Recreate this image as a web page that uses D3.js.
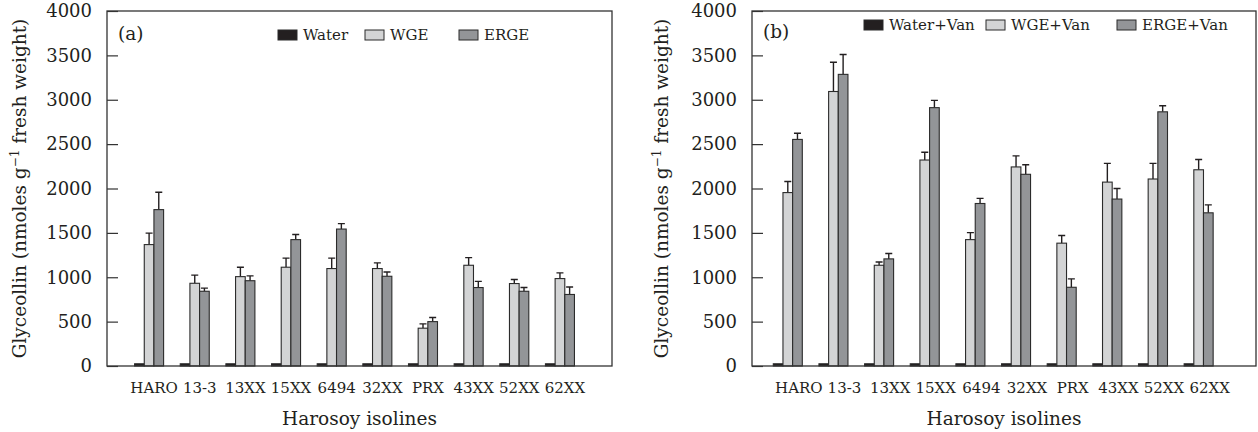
<!DOCTYPE html>
<html>
<head>
<meta charset="utf-8">
<script src="https://cdn.jsdelivr.net/npm/d3@7/dist/d3.min.js"></script>
<style>
  body { margin: 0; background: #fff; }
  text { font-family: "DejaVu Serif", serif; fill: #231f20; }
</style>
</head>
<body>
<div id="chart"></div>
<script>
// Data
var isolines = ["HARO", "13-3", "13XX", "15XX", "6494", "32XX", "PRX", "43XX", "52XX", "62XX"];
var yTicks = [0, 500, 1000, 1500, 2000, 2500, 3000, 3500, 4000];

// panel (a)
var waterA = [25, 25, 25, 25, 25, 25, 25, 25, 25, 25];
var wgeA = [1368, 932, 1007, 1113, 1098, 1098, 426, 1135, 929, 985];
var wgeErrA = [129, 92, 106, 102, 117, 64, 49, 86, 46, 64];
var ergeA = [1762, 842, 961, 1424, 1543, 1011, 500, 884, 842, 806];
var ergeErrA = [196, 35, 54, 57, 61, 49, 46, 70, 42, 84];

// panel (b)
var waterB = [25, 25, 25, 25, 25, 25, 25, 25, 25, 25];
var wgeB = [1954, 3093, 1135, 2321, 1424, 2243, 1384, 2072, 2107, 2211];
var wgeErrB = [125, 329, 37, 88, 79, 125, 86, 211, 176, 115];
var ergeB = [2553, 3286, 1207, 2911, 1831, 2160, 887, 1881, 2864, 1726];
var ergeErrB = [69, 224, 60, 82, 58, 108, 95, 119, 68, 89];

var seriesColors = ["#231f20", "#d3d4d5", "#939598"];

var svgWidth = 1258;
var svgHeight = 432;

var svg = d3.select("#chart")
    .append("svg")
    .attr("width", svgWidth)
    .attr("height", svgHeight);

function drawPanel(p) {
    var top = 11, bottom = 366;
    var step = 45.65, groupW = 29;
    var pad = 1 - groupW / step;

    var y = d3.scaleLinear().domain([0, 4000]).range([bottom, top]);

    var x0 = d3.scaleBand()
        .domain(isolines)
        .range([p.firstGroup - pad / 2 * step, p.firstGroup - pad / 2 * step + isolines.length * step])
        .paddingInner(pad)
        .paddingOuter(pad / 2);

    var x1 = d3.scaleBand()
        .domain([0, 1, 2])
        .range([0, x0.bandwidth()]);

    var g = svg.append("g");

    var rows = isolines.map(function(name, i) {
        return {
            name: name,
            vals: [
                { s: 0, v: p.water[i], e: 0 },
                { s: 1, v: p.wge[i], e: p.wgeErr[i] },
                { s: 2, v: p.erge[i], e: p.ergeErr[i] }
            ]
        };
    });

    var groups = g.selectAll(".grp")
        .data(rows)
        .enter()
        .append("g")
        .attr("transform", d => `translate(${x0(d.name)},0)`);

    // error bars (upper half only)
    groups.selectAll(".err")
        .data(d => d.vals.filter(v => v.e > 0))
        .enter()
        .append("path")
        .attr("d", function(d) {
            var cx = x1(d.s) + x1.bandwidth() / 2;
            var yt = y(d.v + d.e);
            return `M${cx},${y(d.v)}V${yt}M${cx - 3.5},${yt}H${cx + 3.5}`;
        })
        .attr("stroke", "#231f20")
        .attr("stroke-width", 1.4)
        .attr("fill", "none");

    groups.selectAll("rect")
        .data(d => d.vals)
        .enter()
        .append("rect")
        .attr("x", d => x1(d.s))
        .attr("y", d => y(d.v))
        .attr("width", x1.bandwidth())
        .attr("height", d => bottom - y(d.v))
        .attr("fill", d => seriesColors[d.s])
        .attr("stroke", "#2b2b2b")
        .attr("stroke-width", 1.1);

    // frame
    g.append("rect")
        .attr("x", p.left)
        .attr("y", top)
        .attr("width", p.right - p.left)
        .attr("height", bottom - top)
        .attr("fill", "none")
        .attr("stroke", "#333")
        .attr("stroke-width", 1.3);

    // y axis, ticks pointing inward
    var yAxis = g.append("g")
        .attr("transform", `translate(${p.left},0)`)
        .call(d3.axisRight(y).tickValues(yTicks).tickSize(11).tickFormat(d => d));
    yAxis.select(".domain").remove();
    yAxis.selectAll("line").attr("stroke", "#333").attr("stroke-width", 1.2);
    yAxis.selectAll("text")
        .attr("x", -15)
        .attr("text-anchor", "end")
        .style("font-size", "18px")
        .style("font-family", "DejaVu Serif");

    // x tick labels
    var xAxis = g.append("g")
        .attr("transform", `translate(0,${bottom})`)
        .call(d3.axisBottom(x0).tickSize(0));
    xAxis.select(".domain").remove();
    xAxis.selectAll("text")
        .attr("dx", p.labelDx)
        .attr("y", 16)
        .style("font-size", "15px")
        .style("font-family", "DejaVu Serif");

    // axis titles
    g.append("text")
        .attr("x", (p.left + p.right) / 2)
        .attr("y", 425)
        .attr("text-anchor", "middle")
        .style("font-size", "18.5px")
        .text("Harosoy isolines");

    var yt = g.append("text")
        .attr("transform", `translate(${p.titleX},${(top + bottom) / 2}) rotate(-90)`)
        .attr("text-anchor", "middle")
        .style("font-size", "18.5px");
    yt.append("tspan").text("Glyceollin (nmoles g");
    yt.append("tspan").attr("dy", -7).style("font-size", "12px").text("\u22121");
    yt.append("tspan").attr("dy", 7).text(" fresh weight)");

    // panel letter
    g.append("text")
        .attr("x", p.left + 11)
        .attr("y", p.letterY)
        .style("font-size", "18.5px")
        .text(p.letter);

    // legend
    p.legend.forEach(function(l, i) {
        g.append("rect")
            .attr("x", l.x)
            .attr("y", p.legendY - 10)
            .attr("width", 19)
            .attr("height", 10)
            .attr("fill", seriesColors[i])
            .attr("stroke", "#2b2b2b")
            .attr("stroke-width", 1);
        g.append("text")
            .attr("x", l.x + 25)
            .attr("y", p.legendY)
            .style("font-size", "15px")
            .text(l.label);
    });
}

drawPanel({
    left: 107, right: 612, firstGroup: 134.6, labelDx: 5, titleX: 26,
    letter: "(a)", letterY: 40, legendY: 40,
    legend: [{ x: 278, label: "Water" }, { x: 365, label: "WGE" }, { x: 459, label: "ERGE" }],
    water: waterA, wge: wgeA, wgeErr: wgeErrA, erge: ergeA, ergeErr: ergeErrA
});

drawPanel({
    left: 752, right: 1256, firstGroup: 773.3, labelDx: 11, titleX: 668,
    letter: "(b)", letterY: 38, legendY: 30,
    legend: [{ x: 864, label: "Water+Van" }, { x: 986, label: "WGE+Van" }, { x: 1117, label: "ERGE+Van" }],
    water: waterB, wge: wgeB, wgeErr: wgeErrB, erge: ergeB, ergeErr: ergeErrB
});
</script>
</body>
</html>
